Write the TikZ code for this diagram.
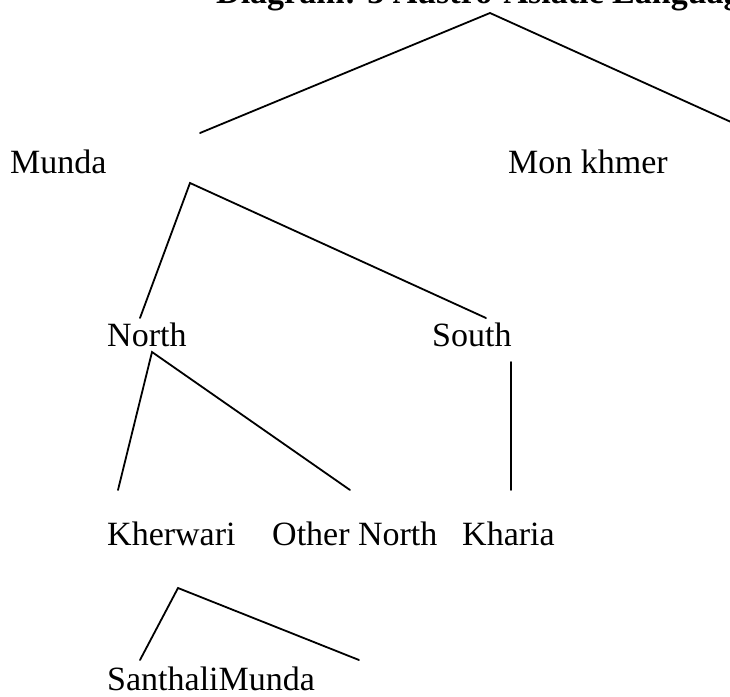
\documentclass[tikz,border=0pt]{standalone}
\usepackage{fontspec}
\setmainfont{Liberation Serif}
\begin{document}
\begin{tikzpicture}[x=1pt,y=-1pt,
  lbl/.style={inner sep=0pt,anchor=base west,font=\fontsize{34}{40}\selectfont},
  ttl/.style={inner sep=0pt,anchor=base west,font=\fontsize{34}{40}\selectfont\bfseries},
  edge/.style={line width=1.8pt,line cap=round}]
\useasboundingbox (0,0) rectangle (730,696);
\begin{scope}
\clip (0,0) rectangle (730,696);
\node[ttl] (title) at (216,4) {Diagram: 3 Austro-Asiatic Language};
\node[lbl] (munda) at (10,173) {Munda};
\node[lbl] (monkhmer) at (508,173) {Mon khmer};
\node[lbl] (north) at (107,346) {North};
\node[lbl] (south) at (432,346) {South};
\node[lbl] (kherwari) at (107,545) {Kherwari};
\node[lbl] (othernorth) at (272,545) {Other North};
\node[lbl] (kharia) at (462,545) {Kharia};
\node[lbl] (santhali) at (107,690) {SanthaliMunda};

\coordinate (apex) at (490,13);
\coordinate (mundaTop) at (200,133);
\coordinate (monTop) at (731,122);
\coordinate (mundaBot) at (190,183);
\coordinate (northTop) at (140,318);
\coordinate (southTop) at (486,318);
\coordinate (northBot) at (152,352);
\coordinate (kherTop) at (118,490);
\coordinate (otherTop) at (350,490);
\coordinate (southBot) at (511,362);
\coordinate (khariaTop) at (511,490);
\coordinate (kherBot) at (178,588);
\coordinate (santTop) at (140,660);
\coordinate (rightTop) at (359,660);

\draw[edge] (mundaTop) -- (apex) -- (monTop);
\draw[edge] (northTop) -- (mundaBot) -- (southTop);
\draw[edge] (kherTop) -- (northBot) -- (otherTop);
\draw[edge] (southBot) -- (khariaTop);
\draw[edge] (santTop) -- (kherBot) -- (rightTop);
\end{scope}
\end{tikzpicture}
\end{document}
